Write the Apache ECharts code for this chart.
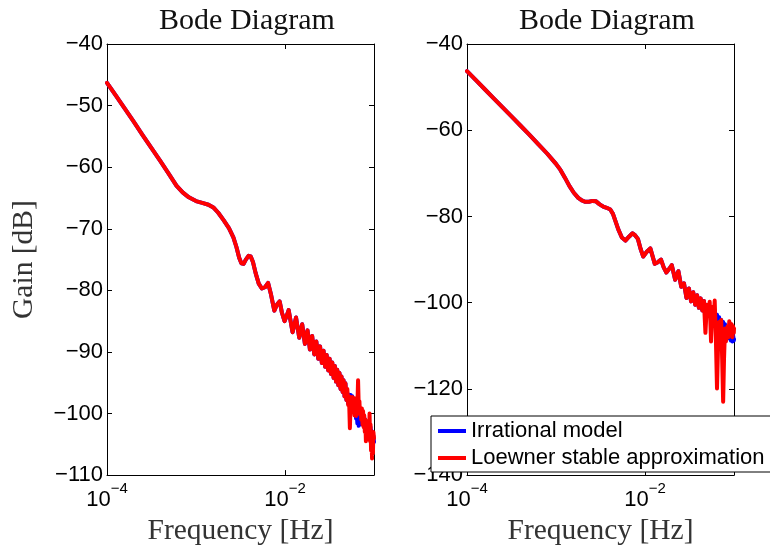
<!DOCTYPE html>
<html><head><meta charset="utf-8">
<script src="https://cdn.jsdelivr.net/npm/echarts@6/dist/echarts.min.js"></script>
<style>html,body{margin:0;padding:0;background:#fff}#c{width:770px;height:551px}</style>
</head><body><div id="c"></div>
<script>
// ---- Data (frequency given as log10(f / Hz), gain in dB) ----
const freqTicks = [1e-4, 1e-2];
const seriesNames = ['Irrational model', 'Loewner stable approximation'];

// Left panel: part where both curves coincide
const leftExpCommon = [-4.00,-3.90,-3.80,-3.70,-3.60,-3.50,-3.40,-3.30,-3.22,-3.15,
  -3.08,-3.00,-2.93,-2.86,-2.80,-2.75,-2.69,-2.63,-2.58,-2.545,
  -2.515,-2.49,-2.465,-2.44,-2.41,-2.385,-2.36,-2.33,-2.295,-2.26,
  -2.225,-2.19,-2.16,-2.12,-2.09,-2.06,-2.035,-2.005,-1.98,-1.959,
  -1.915,-1.876,-1.840,-1.807,-1.776,-1.747,-1.720,-1.695,-1.671,-1.648,
  -1.626,-1.606,-1.586,-1.567,-1.549,-1.532,-1.515,-1.499,-1.483,-1.469,
  -1.454,-1.440,-1.427,-1.413,-1.401,-1.388,-1.376,-1.365,-1.353,-1.342,
  -1.331,-1.321,-1.310];
const leftGainCommon = [-46.3,-48.4,-50.5,-52.6,-54.8,-56.9,-59.0,-61.2,-63.0,-64.1,
  -64.9,-65.5,-65.8,-66.1,-66.6,-67.4,-68.6,-69.9,-71.4,-73.0,
  -74.7,-75.6,-75.7,-75.0,-74.4,-74.5,-75.4,-77.2,-78.9,-79.7,
  -79.5,-78.8,-80.5,-83.3,-82.3,-81.8,-83.6,-85.0,-84.1,-83.2,
  -86.8,-84.4,-87.7,-85.5,-88.7,-86.5,-89.6,-87.4,-90.4,-88.3,
  -91.1,-89.1,-91.8,-89.8,-92.4,-90.5,-93.0,-91.1,-93.6,-91.7,
  -94.2,-92.3,-94.8,-92.9,-95.4,-93.4,-96.0,-94.0,-96.5,-94.6,
  -97.2,-95.1,-97.8];
// Left panel: high-frequency part where curves differ
const leftExpTail = [-1.300,-1.290,-1.281,-1.271,-1.262,-1.253,-1.244,-1.235,-1.227,-1.219,
  -1.210,-1.202,-1.194,-1.187,-1.179,-1.172,-1.164,-1.157,-1.150,-1.143,
  -1.136,-1.129,-1.123,-1.116,-1.110,-1.103,-1.097,-1.091,-1.085,-1.079,
  -1.073,-1.067,-1.061,-1.055,-1.050,-1.044,-1.039,-1.033,-1.028,-1.022,
  -1.017,-1.012,-1.007,-1.000];
const leftIrrationalTail = [-96.6,-98.4,-97.0,-98.6,-97.0,-98.4,-97.2,-98.8,-97.8,-99.8,
  -99.0,-100.8,-100.0,-101.6,-100.6,-102.0,-100.4,-101.8,-100.2,-101.6,
  -100.0,-101.8,-100.2,-102.0,-100.6,-102.4,-101.0,-103.0,-101.4,-103.2,
  -101.6,-103.6,-101.8,-103.8,-102.0,-104.0,-102.2,-104.4,-102.8,-104.8,
  -103.2,-105.0,-103.6,-104.6];
const leftLoewnerTail = [-96.0,-98.6,-97.2,-102.4,-98.0,-99.5,-97.3,-99.8,-97.5,-100.3,
  -98.6,-100.4,-97.5,-99.0,-94.6,-98.5,-98.0,-100.2,-99.4,-101.0,
  -99.2,-101.8,-99.6,-102.2,-100.3,-103.0,-101.0,-104.5,-101.6,-103.4,
  -101.3,-103.9,-101.2,-104.2,-100.0,-104.5,-101.8,-106.0,-103.5,-107.3,
  -104.0,-106.5,-103.0,-104.0];

// Right panel: part where both curves coincide
const rightExpCommon = [-4.00,-3.90,-3.80,-3.70,-3.60,-3.50,-3.40,-3.30,-3.20,-3.10,
  -3.00,-2.95,-2.90,-2.85,-2.80,-2.75,-2.71,-2.67,-2.63,-2.59,
  -2.55,-2.51,-2.47,-2.43,-2.39,-2.36,-2.33,-2.30,-2.26,-2.22,
  -2.18,-2.14,-2.11,-2.08,-2.05,-2.02,-1.98,-1.94,-1.915,-1.89,
  -1.855,-1.82,-1.79,-1.76,-1.73,-1.699,-1.661,-1.625,-1.593,-1.562,
  -1.534,-1.507,-1.482,-1.458,-1.436,-1.415,-1.394,-1.375,-1.356,-1.338];
const rightGainCommon = [-46.3,-48.4,-50.5,-52.6,-54.7,-56.8,-58.9,-61.0,-63.2,-65.4,
  -67.8,-69.2,-71.0,-72.9,-74.5,-75.7,-76.3,-76.6,-76.6,-76.4,
  -76.5,-77.2,-77.7,-78.0,-78.4,-79.4,-81.2,-83.0,-84.9,-85.6,
  -84.7,-83.9,-84.4,-85.2,-87.5,-89.3,-88.2,-87.4,-89.2,-91.0,
  -90.6,-90.0,-91.8,-93.0,-92.2,-91.3,-94.7,-92.7,-96.3,-95.5,
  -98.9,-96.7,-99.7,-97.6,-100.5,-98.3,-101.2,-99.0,-101.8,-99.6];
// Right panel: high-frequency part where curves differ
const rightExpTail = [-1.321,-1.305,-1.289,-1.273,-1.258,-1.244,-1.230,-1.217,-1.204,-1.191,
  -1.179,-1.167,-1.155,-1.144,-1.133,-1.122,-1.112,-1.101,-1.091,-1.081,
  -1.072,-1.062,-1.053,-1.044,-1.035,-1.027,-1.018,-1.010,-1.002,-1.000];
const rightIrrationalTail = [-102.0,-100.6,-102.6,-101.2,-103.2,-101.8,-103.8,-102.3,-104.3,-102.8,
  -104.8,-103.4,-105.4,-104.0,-106.0,-104.5,-106.5,-105.0,-107.2,-105.6,
  -107.8,-106.0,-108.3,-106.6,-108.8,-107.2,-109.0,-107.6,-108.8,-108.5];
const rightLoewnerTail = [-107.0,-100.5,-103.0,-99.8,-109.0,-101.0,-104.5,-99.5,-108.0,-119.9,
  -110.0,-104.5,-106.5,-104.0,-113.0,-123.0,-113.0,-106.0,-109.0,-107.6,
  -105.5,-108.0,-104.3,-104.1,-107.0,-105.0,-108.0,-105.5,-107.0,-106.0];

// ---- Build chart ----
const toPts = (exps, gains) => exps.map((e, i) => [Math.pow(10, e), gains[i]]);
const leftIrr = toPts(leftExpCommon.concat(leftExpTail), leftGainCommon.concat(leftIrrationalTail));
const leftLoe = toPts(leftExpCommon.concat(leftExpTail), leftGainCommon.concat(leftLoewnerTail));
const rightIrr = toPts(rightExpCommon.concat(rightExpTail), rightGainCommon.concat(rightIrrationalTail));
const rightLoe = toPts(rightExpCommon.concat(rightExpTail), rightGainCommon.concat(rightLoewnerTail));

const SANS = '"Liberation Sans", Arial, Helvetica, sans-serif';
const SERIF = '"Liberation Serif", "Times New Roman", serif';
const BLUE = '#0000ff', RED = '#ff0000';

const xFmt = v => {
  const e = Math.round(Math.log10(v));
  return '{b|10}{s|' + (e < 0 ? '\u2212' : '') + Math.abs(e) + '}';
};
const yFmt = v => (v < 0 ? '\u2212' + Math.abs(v) : String(v));

function xAxes(gi) {
  const common = {type: 'log', logBase: 10, gridIndex: gi, min: 1e-4, max: 1e-1,
    splitLine: {show: false}, minorTick: {show: false}, minorSplitLine: {show: false},
    axisLine: {show: true, onZero: false, lineStyle: {color: '#000', width: 1}},
    axisTick: {show: true, inside: true, length: 5, customValues: freqTicks, lineStyle: {color: '#000'}}};
  return [
    Object.assign({}, common, {position: 'bottom',
      axisLabel: {show: true, customValues: freqTicks, margin: 6, formatter: xFmt,
        rich: {b: {fontSize: 22, fontFamily: SANS, color: '#000', padding: [8, 0, 0, 0]},
               s: {fontSize: 15, fontFamily: SANS, color: '#000', verticalAlign: 'top', lineHeight: 15}}},
      name: 'Frequency [Hz]', nameLocation: 'middle', nameGap: 32,
      nameTextStyle: {fontFamily: SERIF, fontSize: 29.5, color: '#333'}}),
    Object.assign({}, common, {position: 'top', axisLabel: {show: false}})
  ];
}
function yAxes(gi, min, max, interval, name) {
  const common = {type: 'value', gridIndex: gi, min, max, interval,
    splitLine: {show: false},
    axisLine: {show: true, onZero: false, lineStyle: {color: '#000', width: 1}},
    axisTick: {show: true, inside: true, length: 5, lineStyle: {color: '#000'}}};
  const left = Object.assign({}, common, {position: 'left',
    axisLabel: {show: true, margin: 4, formatter: yFmt, fontSize: 22, fontFamily: SANS, color: '#000'}});
  if (name) Object.assign(left, {name, nameLocation: 'middle', nameGap: 68,
    nameTextStyle: {fontFamily: SERIF, fontSize: 29.5, color: '#333'}});
  return [left, Object.assign({}, common, {position: 'right', axisLabel: {show: false}})];
}

const lineSeries = (name, data, color, xi, yi, z) => ({
  name, type: 'line', data, xAxisIndex: xi, yAxisIndex: yi, showSymbol: false, symbol: 'none',
  lineStyle: {color, width: 4, join: 'round', cap: 'round'}, itemStyle: {color}, z, silent: true, animation: false
});

const titleStyle = {fontFamily: SERIF, fontSize: 30, fontWeight: 'normal', color: '#111'};
const chart = echarts.init(document.getElementById('c'), null, {renderer: 'canvas'});
chart.setOption({
  animation: false,
  backgroundColor: '#fff',
  title: [
    {text: 'Bode Diagram', left: 242, top: 1, textAlign: 'center', textStyle: titleStyle},
    {text: 'Bode Diagram', left: 602, top: 1, textAlign: 'center', textStyle: titleStyle}
  ],
  grid: [
    {left: 107, top: 44, width: 267, height: 433},
    {left: 467, top: 44, width: 267, height: 433}
  ],
  xAxis: xAxes(0).concat(xAxes(1)),
  yAxis: yAxes(0, -110, -40, 10, 'Gain [dB]').concat(yAxes(1, -140, -40, 20, null)),
  legend: {
    data: seriesNames, orient: 'vertical', left: 431, top: 416, selectedMode: false,
    icon: 'rect', itemWidth: 28, itemHeight: 4, itemGap: 5, padding: [4, 6, 3, 7],
    backgroundColor: '#fff', borderColor: '#000', borderWidth: 1, z: 10,
    textStyle: {fontFamily: SANS, fontSize: 22, color: '#000'}
  },
  series: [
    lineSeries(seriesNames[0], leftIrr, BLUE, 0, 0, 2),
    lineSeries(seriesNames[1], leftLoe, RED, 0, 0, 3),
    lineSeries(seriesNames[0], rightIrr, BLUE, 2, 2, 2),
    lineSeries(seriesNames[1], rightLoe, RED, 2, 2, 3)
  ]
});
</script></body></html>
